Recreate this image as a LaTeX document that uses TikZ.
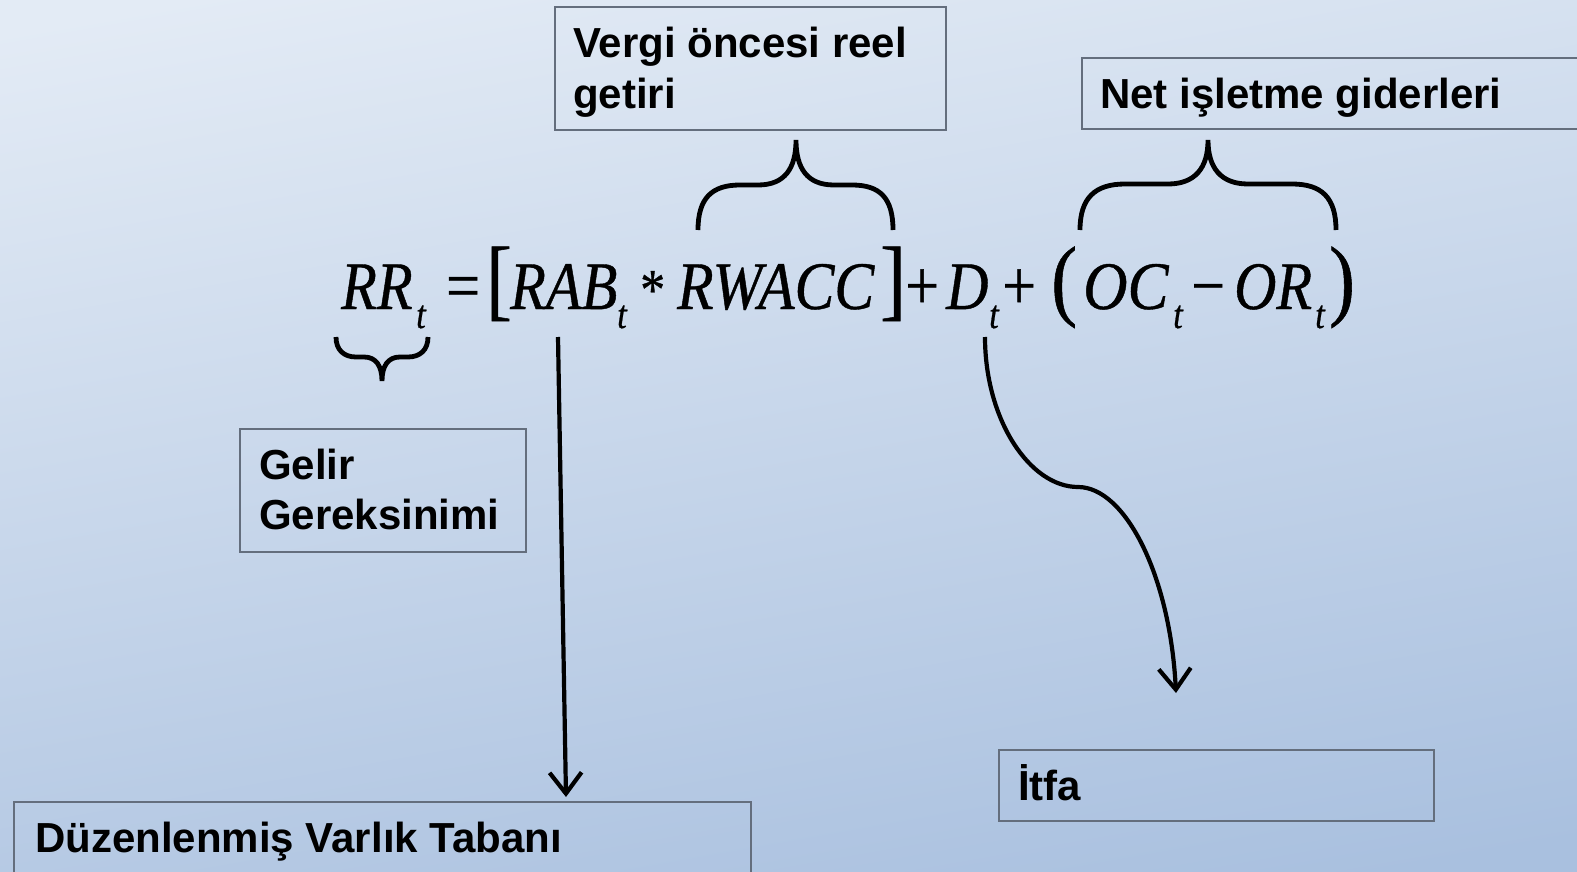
\documentclass[tikz,border=0pt]{standalone}
\usepackage{fontspec}
\usepackage{graphicx}
\setmainfont{Liberation Sans}
\newfontfamily\eqfont[FakeStretch=0.86,FakeBold=0.6]{Liberation Serif}
\usetikzlibrary{arrows.meta}
\definecolor{bgtop}{RGB}{227,235,245}
\definecolor{bgbot}{RGB}{169,192,223}
\definecolor{boxline}{RGB}{100,110,125}
\tikzset{
  box/.style={draw=boxline, line width=2pt, inner sep=0pt, anchor=north west},
  lbl/.style={anchor=base west, inner sep=0pt, font=\fontsize{42}{50}\selectfont\bfseries},
  eqi/.style={anchor=base west, inner sep=0pt, font=\eqfont\itshape\fontsize{68}{68}\selectfont},
  eqr/.style={anchor=base west, inner sep=0pt, font=\eqfont\fontsize{70}{70}\selectfont},
  sub/.style={anchor=base west, inner sep=0pt, font=\eqfont\itshape\fontsize{40}{40}\selectfont},
  big/.style={anchor=base west, inner sep=0pt, font=\eqfont\fontsize{90}{90}\selectfont},
  brace/.style={line width=4.8pt, line cap=butt},
  arr/.style={line width=4.2pt, -{Straight Barb[length=21pt,width=32pt,line width=4.2pt]}},
}
\begin{document}
\begin{tikzpicture}[x=1pt,y=-1pt]
\useasboundingbox (0,0) rectangle (1577,872);
\clip (0,0) rectangle (1577,872);
\shade[top color=bgtop, bottom color=bgbot, shading angle=10] (-50,-50) rectangle (1627,922);

% boxes
\node[box, minimum width=391pt, minimum height=123pt] (vbox) at (554,6) {};
\node[box, minimum width=530pt, minimum height=71pt] (nbox) at (1081,57) {};
\node[box, minimum width=286pt, minimum height=123pt] (gbox) at (239,428) {};
\node[box, minimum width=737pt, minimum height=100pt] (dbox) at (13,801) {};
\node[box, minimum width=435pt, minimum height=71pt] (ibox) at (998,749) {};

\node[lbl] (vt1) at (573,58) {Vergi öncesi reel};
\node[lbl] (vt2) at (573,109) {getiri};
\node[lbl] (nt) at (1100,109) {Net işletme giderleri};
\node[lbl] (gt1) at (259,479) {Gelir};
\node[lbl] (gt2) at (259,529) {Gereksinimi};
\node[lbl] (dt) at (35,852) {Düzenlenmiş Varlık Tabanı};
\node[lbl] (it) at (1018,800) {İtfa};

% equation
\node[eqi] (rr) at (341,309) {RR};
\node[sub] (rrt) at (416,328) {t};
\node[eqr] (eqs) at (446,309) {=};
\node[big] (lb) at (486,309) {[};
\node[eqi] (rab) at (510,309) {RAB};
\node[sub] (rabt) at (617,328) {t};
\node[eqr, font=\eqfont\fontsize{58}{58}\selectfont] (ast) at (640,309) {*};
\node[eqi] (rw) at (677,309) {\scalebox{1.02}[1]{RWACC}};
\node[big] (rb) at (880,309) {]};
\node[eqr] (p1) at (905,309) {+};
\node[eqi] (dd) at (946,309) {D};
\node[sub] (ddt) at (989,328) {t};
\node[eqr] (p2) at (1002,309) {+};
\node[big] (lp) at (1051,309) {(};
\node[eqi] (oc) at (1083,309) {\scalebox{1.05}[1]{OC}};
\node[sub] (oct) at (1173,328) {t};
\node[eqr] (mi) at (1191,309) {−};
\node[eqi] (orr) at (1234,309) {OR};
\node[sub] (ort) at (1315,328) {t};
\node[big] (rp) at (1329,309) {)};

% braces
\draw[brace] (698,230) .. controls (698,198) and (712,185) .. (740,185) -- (758,185)
  .. controls (785,185) and (796,168) .. (796,140)
  .. controls (796,168) and (807,185) .. (834,185) -- (852,185)
  .. controls (880,185) and (893,198) .. (893,230);
\draw[brace] (1080,230) .. controls (1080,198) and (1095,184) .. (1125,184) -- (1168,184)
  .. controls (1195,184) and (1208,168) .. (1208,140)
  .. controls (1208,168) and (1221,184) .. (1248,184) -- (1292,184)
  .. controls (1322,184) and (1336,198) .. (1336,230);
\draw[brace] (336,337) .. controls (336,350) and (344,357) .. (356,357) -- (364,357)
  .. controls (376,357) and (382,366) .. (382,381)
  .. controls (382,366) and (388,357) .. (400,357) -- (408,357)
  .. controls (420,357) and (428,350) .. (428,337);

% arrows
\coordinate (a1s) at (558,337);
\coordinate (a1e) at (566,797);
\draw[arr] (a1s) -- (a1e);
\coordinate (a2s) at (985,337);
\coordinate (a2m) at (1078,487);
\coordinate (a2e) at (1176,693);
\draw[arr] (a2s) .. controls (985,420) and (1030,487) .. (a2m)
  .. controls (1125,487) and (1170,575) .. (a2e);
\end{tikzpicture}
\end{document}
